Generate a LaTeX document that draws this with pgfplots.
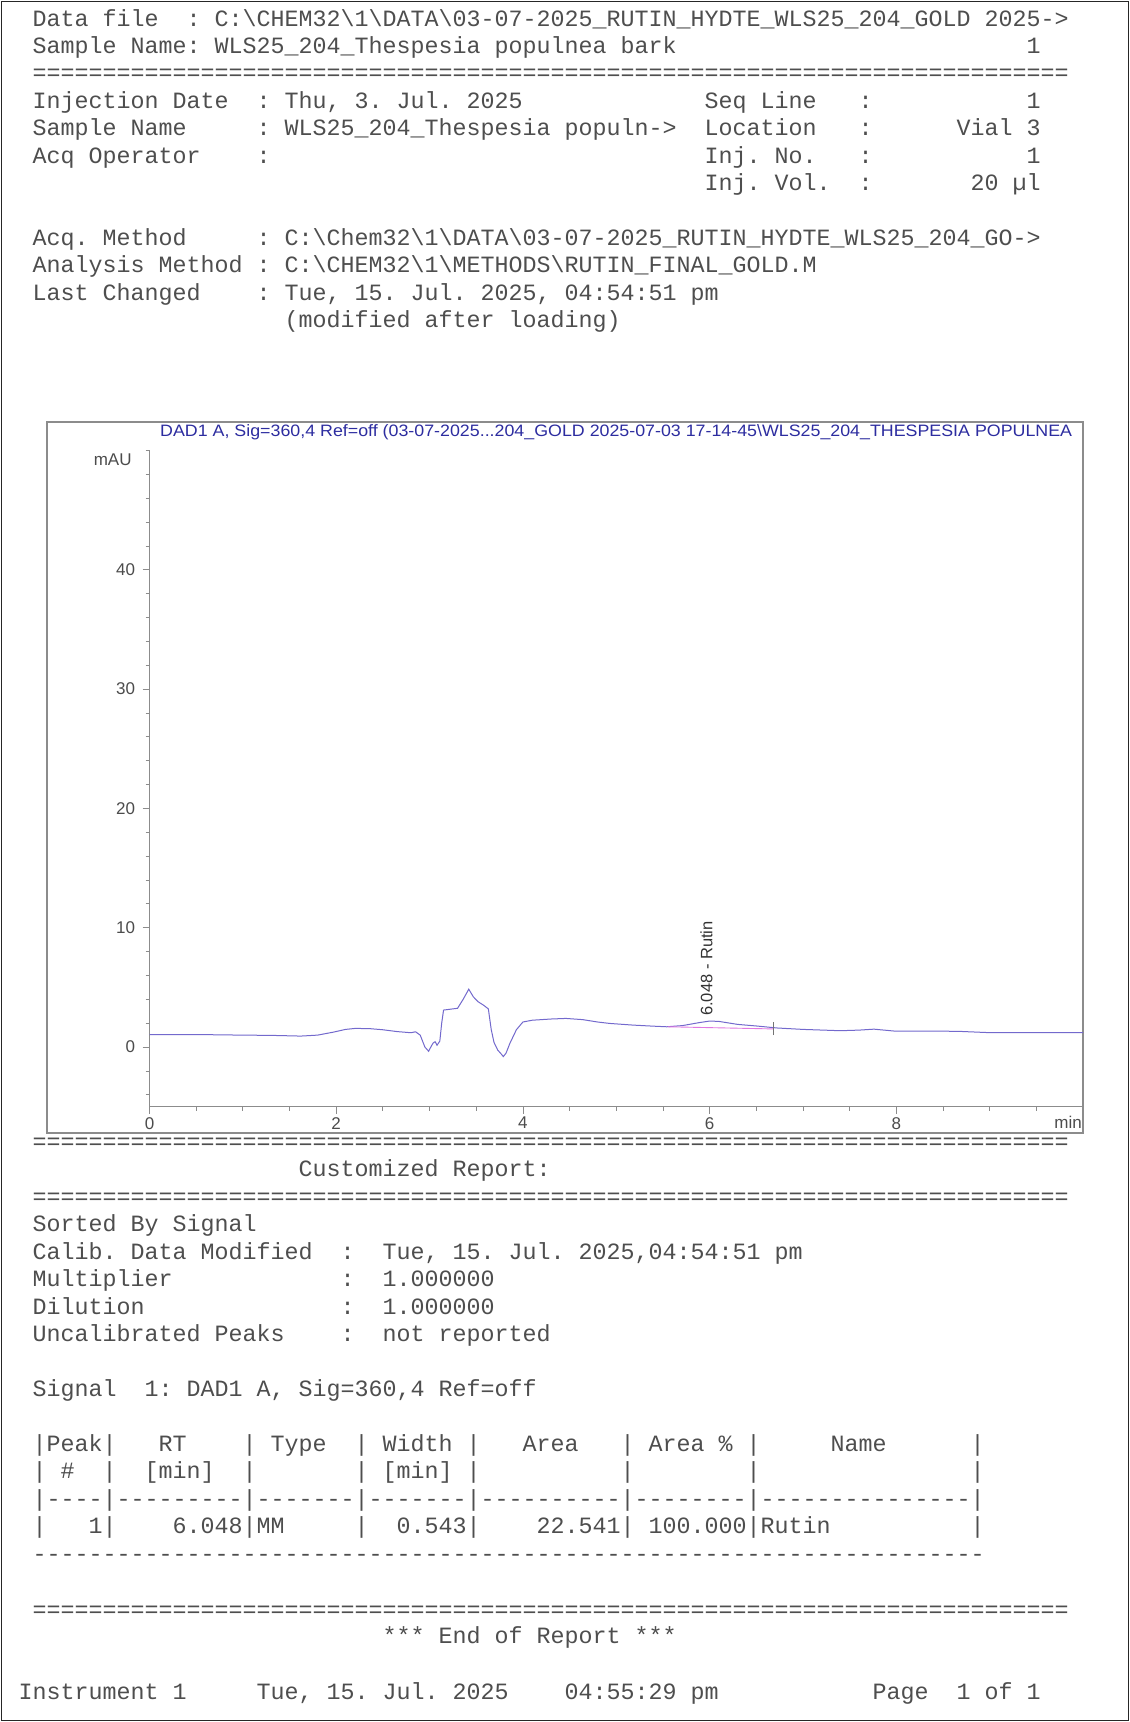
\documentclass[border=0pt]{standalone}
\usepackage{pgfplots}
\pgfplotsset{compat=1.18}
\usepackage{fontspec}
\setmainfont{Liberation Sans}
\setsansfont{Liberation Sans}
\setmonofont{Liberation Mono}
\newfontfamily\widesans{Liberation Sans}[FakeStretch=1.08]
\definecolor{txt}{RGB}{78,78,78}
\definecolor{sig}{RGB}{115,105,205}
\definecolor{bas}{RGB}{225,120,225}
\definecolor{ttl}{RGB}{45,45,160}
\definecolor{axg}{RGB}{140,140,140}
\newcommand\bs{\textbackslash}
\newcommand\Mfont{\ttfamily\fontsize{23.33}{24}\selectfont}
\newcommand\Sfont{\sffamily\fontsize{17}{17}\selectfont}
\newcommand\Tx[3]{\node[anchor=base west,inner sep=0pt,text=txt,font=\Mfont] at ({32.5+14*(#1)},{#2+6}) {#3};}
\pgfplotstableread{
x y
0.00 1.05
0.50 1.05
1.00 1.00
1.30 0.98
1.62 0.92
1.80 1.00
1.97 1.25
2.10 1.48
2.20 1.56
2.35 1.55
2.50 1.45
2.65 1.30
2.80 1.20
2.85 1.28
2.90 1.00
2.95 0.00
2.99 -0.35
3.02 0.10
3.04 0.35
3.06 0.45
3.08 0.15
3.11 0.50
3.13 2.00
3.15 3.10
3.20 3.15
3.30 3.25
3.36 4.00
3.42 4.85
3.47 4.20
3.52 3.80
3.58 3.50
3.63 3.20
3.66 1.50
3.69 0.40
3.73 -0.25
3.77 -0.60
3.79 -0.80
3.82 -0.50
3.86 0.30
3.93 1.45
4.00 2.10
4.10 2.25
4.30 2.35
4.46 2.40
4.64 2.30
4.80 2.10
4.93 1.98
5.18 1.84
5.40 1.75
5.54 1.70
5.71 1.80
5.89 2.05
6.00 2.18
6.10 2.15
6.30 1.90
6.51 1.76
6.72 1.60
7.00 1.48
7.40 1.37
7.60 1.42
7.76 1.50
7.98 1.34
8.30 1.34
8.66 1.32
9.02 1.20
9.50 1.20
10.00 1.20
}\sig
\begin{document}
\begin{tikzpicture}
\begin{scope}[x=1pt,y=-1pt]
\useasboundingbox (0,0) rectangle (1130,1722);
\fill[white] (0,0) rectangle (1130,1722);
\draw[line width=1.5pt,black!85] (1.5,1.5) rectangle (1128.5,1720.5);
% header
\Tx{0}{20}{Data file}
\Tx{11}{20}{:}
\Tx{13}{20}{C:\bs CHEM32\bs 1\bs DATA\bs 03-07-2025\_RUTIN\_HYDTE\_WLS25\_204\_GOLD 2025->}
\Tx{0}{47.4}{Sample Name:}
\Tx{13}{47.4}{WLS25\_204\_Thespesia populnea bark}
\Tx{71}{47.4}{1}
\Tx{0}{74.8}{==========================================================================}
\Tx{0}{102.2}{Injection Date}
\Tx{16}{102.2}{:}
\Tx{18}{102.2}{Thu, 3. Jul. 2025}
\Tx{48}{102.2}{Seq Line}
\Tx{59}{102.2}{:}
\Tx{71}{102.2}{1}
\Tx{0}{129.6}{Sample Name}
\Tx{16}{129.6}{:}
\Tx{18}{129.6}{WLS25\_204\_Thespesia populn->}
\Tx{48}{129.6}{Location}
\Tx{59}{129.6}{:}
\Tx{66}{129.6}{Vial 3}
\Tx{0}{157}{Acq Operator}
\Tx{16}{157}{:}
\Tx{48}{157}{Inj. No.}
\Tx{59}{157}{:}
\Tx{71}{157}{1}
\Tx{48}{184.4}{Inj. Vol.}
\Tx{59}{184.4}{:}
\Tx{67}{184.4}{20 µl}
\Tx{0}{239.2}{Acq. Method}
\Tx{16}{239.2}{:}
\Tx{18}{239.2}{C:\bs Chem32\bs 1\bs DATA\bs 03-07-2025\_RUTIN\_HYDTE\_WLS25\_204\_GO->}
\Tx{0}{266.6}{Analysis Method}
\Tx{16}{266.6}{:}
\Tx{18}{266.6}{C:\bs CHEM32\bs 1\bs METHODS\bs RUTIN\_FINAL\_GOLD.M}
\Tx{0}{294}{Last Changed}
\Tx{16}{294}{:}
\Tx{18}{294}{Tue, 15. Jul. 2025, 04:54:51 pm}
\Tx{18}{321.4}{(modified after loading)}
% chart frame and title
\draw[line width=1.2pt,black!45] (47,422) rectangle (1083,1133);
\node[anchor=west,inner sep=0pt,text=ttl,font=\widesans\fontsize{16.5}{16.5}\selectfont] at (160,432) {DAD1 A, Sig=360,4 Ref=off (03-07-2025...204\_GOLD 2025-07-03 17-14-45\bs WLS25\_204\_THESPESIA POPULNEA};
% lower report
\Tx{0}{1143}{==========================================================================}
\Tx{19}{1170}{Customized Report:}
\Tx{0}{1198}{==========================================================================}
\Tx{0}{1225}{Sorted By Signal}
\Tx{0}{1253}{Calib. Data Modified}
\Tx{22}{1253}{:}
\Tx{25}{1253}{Tue, 15. Jul. 2025,04:54:51 pm}
\Tx{0}{1280}{Multiplier}
\Tx{22}{1280}{:}
\Tx{25}{1280}{1.000000}
\Tx{0}{1308}{Dilution}
\Tx{22}{1308}{:}
\Tx{25}{1308}{1.000000}
\Tx{0}{1335}{Uncalibrated Peaks}
\Tx{22}{1335}{:}
\Tx{25}{1335}{not reported}
\Tx{0}{1390}{Signal}
\Tx{8}{1390}{1: DAD1 A, Sig=360,4 Ref=off}
% table
\Tx{0}{1445}{|Peak|}
\Tx{9}{1445}{RT}
\Tx{15}{1445}{|}
\Tx{17}{1445}{Type}
\Tx{23}{1445}{|}
\Tx{25}{1445}{Width}
\Tx{31}{1445}{|}
\Tx{35}{1445}{Area}
\Tx{42}{1445}{|}
\Tx{44}{1445}{Area \%}
\Tx{51}{1445}{|}
\Tx{57}{1445}{Name}
\Tx{67}{1445}{|}
\Tx{0}{1472}{|}
\Tx{2}{1472}{\#}
\Tx{5}{1472}{|}
\Tx{8}{1472}{[min]}
\Tx{15}{1472}{|}
\Tx{23}{1472}{|}
\Tx{25}{1472}{[min]}
\Tx{31}{1472}{|}
\Tx{42}{1472}{|}
\Tx{51}{1472}{|}
\Tx{67}{1472}{|}
\Tx{0}{1500}{|----|---------|-------|-------|----------|--------|---------------|}
\Tx{0}{1527}{|}
\Tx{4}{1527}{1|}
\Tx{10}{1527}{6.048|MM}
\Tx{23}{1527}{|}
\Tx{26}{1527}{0.543|}
\Tx{36}{1527}{22.541|}
\Tx{44}{1527}{100.000|Rutin}
\Tx{67}{1527}{|}
\Tx{0}{1555}{--------------------------------------------------------------------}
\Tx{0}{1611}{==========================================================================}
\Tx{25}{1637}{*** End of Report ***}
\Tx{-1}{1693}{Instrument 1}
\Tx{16}{1693}{Tue, 15. Jul. 2025}
\Tx{38}{1693}{04:55:29 pm}
\Tx{60}{1693}{Page}
\Tx{66}{1693}{1 of 1}
\end{scope}
\begin{axis}[
  at={(149.5pt,-1106.7pt)}, anchor=south west,
  scale only axis, width=933.5pt, height=656.2pt,
  xmin=0, xmax=10, ymin=-5, ymax=50,
  axis lines=left, axis line style={axg,-,line width=1pt},
  xtick={0,2,4,6,8}, minor xtick={0,0.5,...,10},
  ytick={0,10,20,30,40}, minor ytick={-4,-2,...,50},
  tick align=outside, major tick length=7pt, minor tick length=4pt,
  tick style={axg,line width=0.8pt},
  /pgf/number format/assume math mode=true,
  ticklabel style={font=\Sfont,text=black!70},
  yticklabel style={xshift=-4pt},
  xticklabel style={yshift=0pt},
  clip=false,
]
\addplot[sig,line width=1.0pt,no markers] table[x=x,y=y] {\sig};
\addplot[bas,line width=0.9pt,no markers] coordinates {(5.55,1.70) (6.68,1.52)};
\addplot[black!55,line width=0.8pt,no markers] coordinates {(6.68,1.0) (6.68,2.1)};
\node[rotate=90,anchor=base west,inner sep=0pt,font=\sffamily\fontsize{16.5}{16.5}\selectfont,text=black!80] at (axis cs:6.03,2.6) {6.048 - Rutin};
\node[anchor=east,inner sep=0pt,font=\Sfont,text=black!70] at (axis cs:0,49.2) [xshift=-17.7pt] {mAU};
\node[anchor=north east,inner sep=0pt,font=\Sfont,text=black!70] at (axis cs:10,-5) [yshift=-9pt,xshift=-1pt] {min};
\end{axis}
\end{tikzpicture}
\end{document}
